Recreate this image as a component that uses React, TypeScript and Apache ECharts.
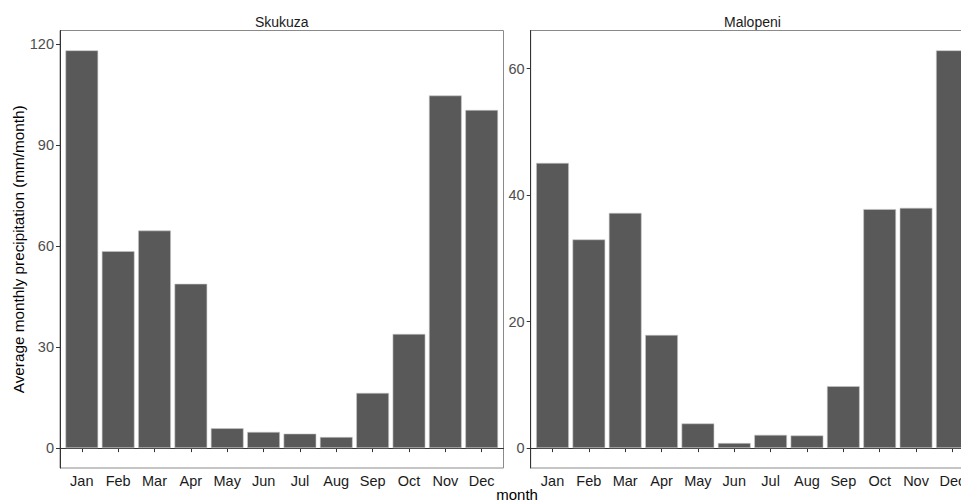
import React, { useEffect, useRef } from "react";
import * as echarts from "echarts";

const months = ["Jan", "Feb", "Mar", "Apr", "May", "Jun", "Jul", "Aug", "Sep", "Oct", "Nov", "Dec"];
const skukuza = [118.1, 58.5, 64.6, 48.8, 5.9, 4.8, 4.3, 3.3, 16.4, 33.9, 104.7, 100.4];
const malopeni = [45.1, 33.0, 37.2, 17.9, 3.9, 0.8, 2.1, 2.0, 9.8, 37.8, 38.0, 62.9];
const skukuzaTicks = [0, 30, 60, 90, 120];
const malopeniTicks = [0, 20, 40, 60];
const panelTitles = ["Skukuza", "Malopeni"];
const yTitle = "Average monthly precipitation (mm/month)";
const xTitle = "month";

const FONT = "Liberation Sans, Arial, sans-serif";

export default function App() {
  const ref = useRef<HTMLDivElement>(null);
  useEffect(() => {
    document.body.style.margin = "0";
    const chart = echarts.init(ref.current!, null, { renderer: "svg" });
    const panelW = 443.5;
    const lefts = [60, 530.7];
    const top = 30.5;
    const height = 437.5;
    const monthPos = months.map((_, i) => i + 1);
    const datasets = [skukuza, malopeni];
    const ticks = [skukuzaTicks, malopeniTicks];
    const barW = (0.9 * panelW) / 12.2;

    const yRange = datasets.map((d) => {
      const mx = Math.max(...d);
      return [-0.05 * mx, mx * 1.05];
    });

    chart.setOption({
      animation: false,
      backgroundColor: "#ffffff",
      textStyle: { fontFamily: FONT },
      grid: lefts.map((l) => ({
        left: l,
        top,
        width: panelW,
        height,
        show: true,
        borderColor: "#8a8a8a",
        borderWidth: 1,
        containLabel: false,
        outerBoundsMode: "none",
      })),
      xAxis: lefts.map((_, k) => ({
        type: "value",
        gridIndex: k,
        min: 0.4,
        max: 12.6,
        splitLine: { show: false },
        axisLine: { show: true, lineStyle: { color: "#333333", width: 1 } },
        axisTick: { show: true, length: 4, lineStyle: { color: "#333333" }, customValues: monthPos },
        axisLabel: {
          customValues: monthPos,
          formatter: (v: number) => months[Math.round(v) - 1] ?? "",
          color: "#1a1a1a",
          fontSize: 14.5,
          fontFamily: FONT,
          margin: 5,
        },
      })),
      yAxis: lefts.map((_, k) => ({
        type: "value",
        gridIndex: k,
        min: yRange[k][0],
        max: yRange[k][1],
        splitLine: { show: false },
        axisLine: { show: true, lineStyle: { color: "#333333", width: 1 } },
        axisTick: { show: true, length: 4, lineStyle: { color: "#333333" }, customValues: ticks[k] },
        axisLabel: {
          customValues: ticks[k],
          color: "#4d4d4d",
          fontSize: 14.5,
          fontFamily: FONT,
          margin: 6,
        },
        name: k === 0 ? yTitle : "",
        nameLocation: "middle",
        nameGap: 34,
        nameTextStyle: { color: "#000000", fontSize: 15.3, fontFamily: FONT },
      })),
      series: datasets.map((d, k) => ({
        type: "bar",
        xAxisIndex: k,
        yAxisIndex: k,
        barWidth: barW,
        data: d.map((v, i) => [i + 1, v]),
        itemStyle: { color: "#595959", borderColor: "#c8c8c8", borderWidth: 0.6 },
      })),
      graphic: [
        ...panelTitles.map((t, k) => ({
          type: "text",
          x: lefts[k] + panelW / 2,
          y: 21.5,
          style: {
            text: t,
            fill: "#1a1a1a",
            fontSize: 14,
            fontFamily: FONT,
            align: "center",
            verticalAlign: "middle",
          },
        })),
        {
          type: "text",
          x: (lefts[0] + lefts[1] + panelW) / 2,
          y: 494,
          style: {
            text: xTitle,
            fill: "#000000",
            fontSize: 15,
            fontFamily: FONT,
            align: "center",
            verticalAlign: "middle",
          },
        },
      ],
    });
    return () => chart.dispose();
  }, []);
  return (
    <div
      ref={ref}
      style={{ position: "absolute", left: 0, top: 0, width: 961, height: 502 }}
    />
  );
}
